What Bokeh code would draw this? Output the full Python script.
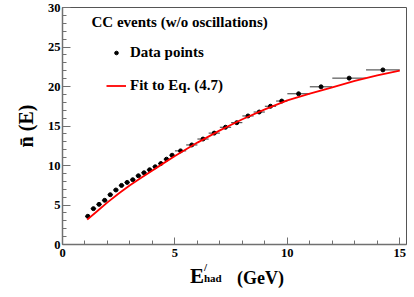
from bokeh.plotting import figure
from bokeh.models import Range1d, Label, Legend, LegendItem, FixedTicker, ColumnDataSource, Div
from bokeh.layouts import column
from bokeh.embed import file_html
from bokeh.resources import INLINE

# ---- data ----
e_lo = [1.0, 1.25, 1.5, 1.75, 2.0, 2.25, 2.5, 2.75, 3.0, 3.25, 3.5, 3.75, 4.0, 4.25, 4.5, 4.75,
        5.0, 5.5, 6.0, 6.5, 7.0, 7.5, 8.0, 8.5, 9.0, 9.5, 10.0, 11.0, 12.0, 13.5]
e_hi = [1.25, 1.5, 1.75, 2.0, 2.25, 2.5, 2.75, 3.0, 3.25, 3.5, 3.75, 4.0, 4.25, 4.5, 4.75, 5.0,
        5.5, 6.0, 6.5, 7.0, 7.5, 8.0, 8.5, 9.0, 9.5, 10.0, 11.0, 12.0, 13.5, 15.0]
n_mean = [3.57, 4.54, 5.08, 5.59, 6.30, 6.90, 7.48, 7.86, 8.20, 8.70, 9.08, 9.46, 9.84, 10.25, 10.80, 11.30,
          11.85, 12.60, 13.35, 14.10, 14.84, 15.42, 16.27, 16.77, 17.50, 18.16, 19.08, 19.96, 21.06, 22.10]

fit_E = [1.1, 1.5, 2.0, 2.5, 3.0, 3.5, 4.0, 4.5, 5.0, 6.0, 7.0, 8.0, 9.0, 10.0, 11.0, 12.0, 13.0, 14.0, 15.0]
fit_n = [3.15, 4.12, 5.33, 6.45, 7.50, 8.45, 9.38, 10.30, 11.20, 12.90, 14.45, 15.85, 17.10, 18.25, 19.10, 19.90, 20.70, 21.40, 22.00]

x_ticks = [0, 5, 10, 15]
y_ticks = [0, 5, 10, 15, 20, 25, 30]

e_mid = [(a + b) / 2 for a, b in zip(e_lo, e_hi)]
src = ColumnDataSource(dict(lo=e_lo, hi=e_hi, x=e_mid, y=n_mean))

SERIF = "Liberation Serif"
AX = "#707070"

p = figure(width=410, height=262, output_backend="svg", toolbar_location=None,
           x_range=Range1d(0, 15.3), y_range=Range1d(0, 30),
           min_border_left=62, min_border_right=4, min_border_top=7, min_border_bottom=18)
p.background_fill_color = "white"
p.border_fill_color = "white"
p.outline_line_color = "#555555"
p.outline_line_width = 1
p.grid.visible = False

for ax in (p.xaxis[0], p.yaxis[0]):
    ax.axis_line_color = AX
    ax.axis_line_width = 1.5
    ax.major_tick_line_color = AX
    ax.minor_tick_line_color = AX
    ax.major_tick_out = 0
    ax.minor_tick_out = 0
    ax.major_label_text_font = SERIF
    ax.major_label_text_font_style = "bold"
    ax.major_label_text_font_size = "12.5px"
    ax.major_label_text_color = "black"

p.xaxis.ticker = FixedTicker(ticks=x_ticks, minor_ticks=list(range(0, 16)))
p.yaxis.ticker = FixedTicker(ticks=y_ticks, minor_ticks=list(range(0, 31)))
p.xaxis.major_tick_in = 7
p.xaxis.minor_tick_in = 4
p.yaxis.major_tick_in = 8
p.yaxis.minor_tick_in = 4
p.xaxis.major_label_standoff = 4
p.yaxis.major_label_standoff = 2

p.yaxis.axis_label = "n\u0304 (E)"
p.yaxis.axis_label_text_font = SERIF
p.yaxis.axis_label_text_font_style = "bold"
p.yaxis.axis_label_text_font_size = "20px"
p.yaxis.axis_label_text_color = "black"
p.yaxis.axis_label_standoff = 8

# error bars and points
p.segment(x0="lo", x1="hi", y0="y", y1="y", source=src, line_color="#333333", line_width=1)
pts = p.scatter(x="x", y="y", source=src, size=4, color="black")
fit = p.line(fit_E, fit_n, line_color="red", line_width=1.8)

# legend
legend = Legend(items=[LegendItem(label="Data points", renderers=[pts]),
                       LegendItem(label="Fit to Eq. (4.7)", renderers=[fit])],
                location=(44, 149), padding=0, margin=0, spacing=13,
                glyph_width=20, glyph_height=9, label_height=20, label_standoff=4,
                border_line_color=None, background_fill_alpha=0,
                label_text_font=SERIF, label_text_font_style="bold",
                label_text_font_size="15px", label_text_color="black")
p.add_layout(legend, "center")

# header
p.add_layout(Label(x=1.29, y=28.2, text="CC events (w/o oscillations)", text_font=SERIF,
                   text_font_style="bold", text_font_size="15px", text_baseline="middle",
                   text_color="black"))

# x-axis title E'_had (GeV), as real text below the canvas
base = "position:absolute;font-family:'Liberation Serif';font-weight:bold;color:black;white-space:nowrap;"
title_html = (
    '<div style="position:relative;width:410px;height:34px;">'
    f'<span style="{base}font-size:21px;line-height:21px;left:190px;top:4px;">E</span>'
    f'<span style="{base}font-size:11px;line-height:11px;left:204px;top:0px;">/</span>'
    f'<span style="{base}font-size:11px;line-height:11px;left:204px;top:11px;">had</span>'
    f'<span style="{base}font-size:18px;line-height:18px;left:237px;top:7px;">(GeV)</span>'
    '</div>'
)
xt = Div(text=title_html, width=410, height=34, margin=0)

layout = column(p, xt, spacing=0)

open("out.html", "w").write(file_html(layout, INLINE))
